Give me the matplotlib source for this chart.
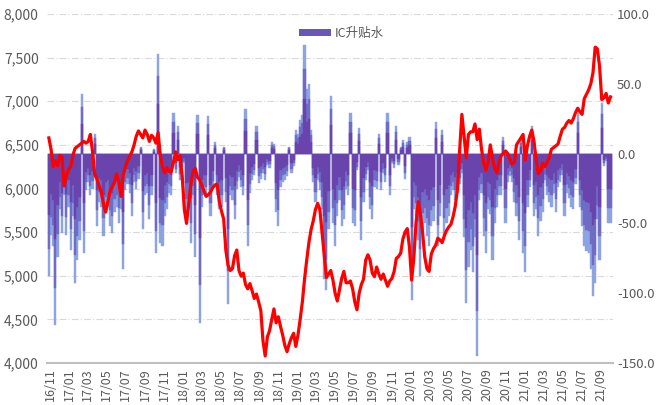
import pandas as pd
import matplotlib
matplotlib.use('Agg')
import matplotlib.pyplot as plt
import matplotlib.dates as mdates
from matplotlib.patches import Patch
from matplotlib.ticker import FuncFormatter, MultipleLocator

plt.rcParams['font.family'] = ['Noto Sans CJK SC', 'DejaVu Sans']

# 周度数据（2016-10-28 起，每周一个点）
weeks = pd.date_range('2016-10-28', periods=258, freq='7D')

# 中证500 指数（左轴）
csi500 = [
    6580, 6450, 6250, 6320, 6260, 6380, 6360, 6030, 6150, 6220,
    6250, 6380, 6460, 6480, 6500, 6520, 6540, 6520, 6540, 6620,
    6420, 6160, 6110, 6030, 5960, 5820, 5730, 5850, 5970, 6020,
    6070, 6170, 6080, 5910, 6150, 6250, 6320, 6370, 6420, 6500,
    6600, 6660, 6620, 6580, 6670, 6620, 6540, 6610, 6580, 6520,
    6640, 6380, 6250, 6180, 6240, 6200, 6190, 6300, 6420, 6330,
    6380, 6150, 5760, 5600, 5820, 6050, 6200, 6230, 6130, 6100,
    6040, 5970, 5910, 5930, 5960, 6010, 6040, 6050, 5850, 5740,
    5650, 5290, 5120, 5060, 5080, 5230, 5295, 5060, 4995, 5030,
    4900, 4850, 4910, 4830, 4740, 4790, 4700, 4600, 4250, 4080,
    4300, 4370, 4500, 4620, 4460, 4530, 4420, 4320, 4200, 4130,
    4220, 4290, 4340, 4190, 4320, 4500, 4700, 4960, 5180, 5380,
    5530, 5630, 5760, 5830, 5760, 5500, 5230, 4980, 5020, 5060,
    4950, 4800, 4710, 4840, 4970, 5050, 4920, 4920, 4940, 4850,
    4700, 4610, 4800, 4900, 4960, 5180, 5240, 5180, 5030, 4990,
    5100, 5020, 4960, 5020, 4950, 4880, 4940, 4970, 5050, 5200,
    5220, 5260, 5420, 5500, 5540, 5330, 4950, 5200, 5600, 5850,
    5720, 5500, 5220, 5080, 5050, 5250, 5310, 5350, 5430, 5410,
    5380, 5460, 5520, 5560, 5590, 5680, 5800, 6000, 6450, 6850,
    6600, 6350, 6620, 6650, 6650, 6740, 6560, 6680, 6450, 6290,
    6210, 6300, 6500, 6350, 6230, 6180, 6300, 6380, 6400, 6430,
    6400, 6330, 6280, 6300, 6500, 6540, 6580, 6620, 6330, 6490,
    6600, 6670, 6540, 6330, 6170, 6200, 6290, 6250, 6300, 6360,
    6450, 6470, 6490, 6510, 6600, 6680, 6700, 6750, 6780, 6750,
    6800, 6870, 6920, 6880, 6850, 7030, 7080, 7130, 7200, 7330,
    7620, 7600, 7400, 7020, 7040, 7090, 6980, 7050,
]

# IC 升贴水（右轴）
basis = [
    -88, -58, -66, -123, -74, -40, -57, -30, -58, -38,
    -69, -45, -93, -76, -62, 43, -71, -26, -20, -30,
    -25, 14, -52, -35, -38, -59, -40, -38, -52, -57,
    -42, -38, -50, -40, -83, -26, -22, -28, -45, -20,
    -25, -18, 5, -54, -30, -28, -47, -30, 3, -71,
    71, -64, -66, -45, -40, -28, -30, 29, -14, 20,
    -19, -12, -7, -42, -40, -64, -30, -74, 28, -121,
    -38, -30, -31, 27, -45, -25, 8, -30, -40, -38,
    5, -35, -108, -30, -33, -47, -25, -17, -24, -30,
    32, -66, -28, -19, -15, 20, -21, -18, -14, -19,
    -8, -10, 8, 7, -42, -52, -24, -20, -19, -16,
    5, -14, -9, 17, 14, 24, 28, 78, 46, 50,
    17, -20, -35, -19, -26, -40, -90, -98, -54, 41,
    -50, -66, -45, -33, -52, -47, -25, -30, 29, -50,
    -52, -12, 18, -62, -35, -19, -12, -40, -47, -24,
    -25, 14, -26, -14, -20, 29, -30, -7, -10, 20,
    -8, 5, 10, -18, 8, 12, -105, -40, -45, -62,
    -88, -55, -50, -59, -66, -52, -48, 23, -66, -45,
    17, -59, -50, -45, -30, -26, -33, -28, -22, -14,
    -60, -107, -81, -69, -85, -60, -145, -33, -28, -59,
    -71, -40, -43, -76, -50, -38, -30, -30, 12, -50,
    -20, -16, -20, -35, -45, -62, 10, -71, -85, -38,
    -24, 20, -45, -40, -59, -48, -42, -19, -30, -35,
    -38, -28, -42, -24, -20, -15, -45, -28, -32, -38,
    -40, -22, 29, -38, -52, -66, -70, -71, -83, -102,
    -93, -47, -76, 36, -9, -5, -50, -50,
]

grey = '#595959'

fig = plt.figure(figsize=(6.57, 4.05), dpi=100)
ax = fig.add_axes([0.0715, 0.1037, 0.8615, 0.8617])
ax2 = ax.twinx()
ax3 = ax.twinx()

# 左轴：网格线
ax.set_ylim(4000, 8000)
ax.yaxis.set_major_locator(MultipleLocator(500))
ax.yaxis.set_major_formatter(FuncFormatter(lambda v, p: f'{v:,.0f}'))
for v in range(4500, 8001, 500):
    ax.axhline(v, color='#d9d9d9', lw=0.8, ls=(0, (6, 2, 1, 2)), zorder=0)

# 右轴：升贴水柱（三层颜色模拟渐变）
bw = pd.Timedelta(days=7)
layers = [(1.0, '#8ea3e2'), (0.78, '#6f6cc6'), (0.5, '#6a44ad')]
for k, c in layers:
    ax2.bar(weeks, [b * k for b in basis], width=bw, color=c,
            edgecolor=c, linewidth=0.3)
ax2.set_ylim(-150, 100)
ax2.yaxis.set_major_locator(MultipleLocator(50))
ax2.yaxis.set_major_formatter(FuncFormatter(lambda v, p: f'{v:.1f}'))

# 指数红线
ax3.plot(weeks, csi500, color='#ff0000', lw=2.3, solid_joinstyle='round')
ax3.set_ylim(4000, 8000)
ax3.set_yticks([])

ax.set_xlim(pd.Timestamp('2016-10-22'), pd.Timestamp('2021-10-09'))
ax.xaxis.set_major_locator(mdates.MonthLocator(bymonth=[1, 3, 5, 7, 9, 11]))
ax.xaxis.set_major_formatter(mdates.DateFormatter('%y/%m'))
for lab in ax.get_xticklabels():
    lab.set_rotation(90)

for a in (ax, ax2, ax3):
    for s in a.spines.values():
        s.set_visible(False)
ax.spines['bottom'].set_visible(True)
ax.spines['bottom'].set_color('#bfbfbf')
ax.spines['bottom'].set_linewidth(1.5)
ax.spines['bottom'].set_zorder(5)

ax.tick_params(axis='x', length=0, labelsize=9, colors=grey, pad=4)
ax.tick_params(axis='y', length=0, labelsize=10, colors=grey, pad=6)
ax2.tick_params(axis='y', length=0, labelsize=9.5, colors=grey, pad=3)

ax3.legend(handles=[Patch(facecolor='#6a55b8', edgecolor='none')],
           labels=['IC升贴水'], loc='upper center', bbox_to_anchor=(0.52, 0.995),
           frameon=False, fontsize=9, labelcolor=grey,
           handlelength=2.6, handleheight=0.5, handletextpad=0.3)

fig.savefig('out.png', dpi=100)
